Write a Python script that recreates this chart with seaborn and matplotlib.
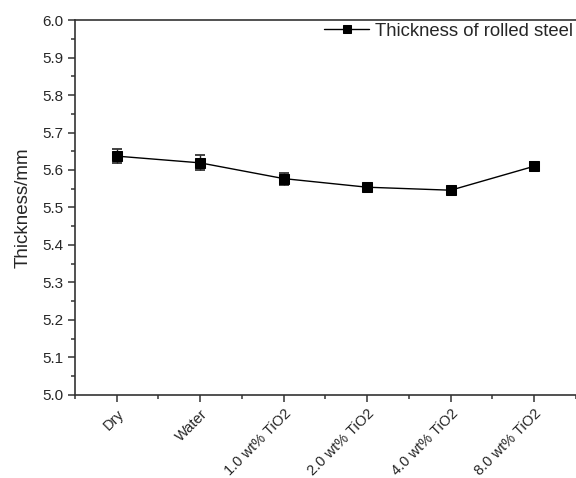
import pandas as pd
import matplotlib.pyplot as plt
import seaborn as sns
from matplotlib.ticker import MultipleLocator

# Data
conditions = ['Dry', 'Water', '1.0 wt% TiO2', '2.0 wt% TiO2', '4.0 wt% TiO2', '8.0 wt% TiO2']
thickness = [5.637, 5.619, 5.577, 5.554, 5.546, 5.610]
thickness_err = [0.018, 0.020, 0.016, 0.009, 0.004, 0.010]

df = pd.DataFrame({'Condition': conditions, 'Thickness': thickness, 'Err': thickness_err})

sns.set_style('ticks')
plt.rcParams['font.family'] = ['Liberation Sans', 'DejaVu Sans']

fig = plt.figure(figsize=(5.76, 4.78), dpi=100)
ax = fig.add_axes([0.13, 0.174, 0.87, 0.784])

ax.errorbar(df['Condition'], df['Thickness'], yerr=df['Err'], fmt='none',
            ecolor='#222222', elinewidth=1, capsize=3.5, capthick=1.2, zorder=1)
sns.lineplot(data=df, x='Condition', y='Thickness', ax=ax, color='black',
             marker='s', markersize=6.5, linewidth=1, markeredgecolor='black',
             label='Thickness of rolled steel', zorder=3)

ax.set_xlim(-0.5, 5.33)
ax.set_ylim(5.0, 6.0)
ax.yaxis.set_major_locator(MultipleLocator(0.1))
ax.yaxis.set_minor_locator(MultipleLocator(0.05))
ax.set_xticks(range(len(conditions)))
ax.set_xticks([i + 0.5 for i in range(-1, len(conditions))], minor=True)
ax.set_xticklabels(conditions, rotation=45, ha='right', rotation_mode='anchor', fontsize=10.5)
ax.tick_params(axis='y', labelsize=11, pad=3)
ax.tick_params(which='major', direction='out', length=5, width=1.1, color='#333333')
ax.tick_params(which='minor', direction='out', length=3, width=1.1, color='#333333')

ax.set_xlabel('')
ax.set_ylabel('Thickness/mm', fontsize=13.5, labelpad=8)

for side in ['left', 'bottom', 'top']:
    ax.spines[side].set_linewidth(1.2)
    ax.spines[side].set_color('#333333')
ax.spines['right'].set_visible(False)

ax.legend(loc='upper right', frameon=False, fontsize=13.3, handlelength=2.4,
          borderaxespad=0.05, borderpad=0.1, handletextpad=0.35, markerscale=0.9)

plt.savefig('out.png', dpi=100)
